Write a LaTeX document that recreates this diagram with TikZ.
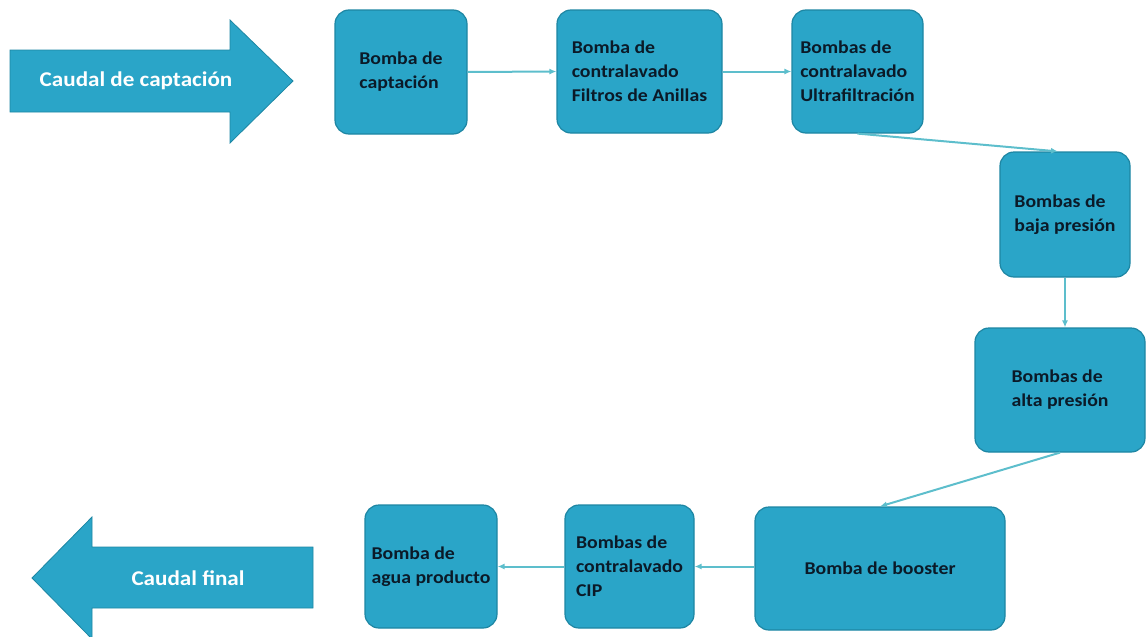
\documentclass[tikz,border=0pt]{standalone}
\usepackage{fontspec}
\setmainfont{Carlito}[FakeStretch=1.1]
\usetikzlibrary{arrows.meta}
\definecolor{boxfill}{HTML}{2AA5C8}
\definecolor{boxline}{HTML}{1D86A3}
\definecolor{conn}{HTML}{5DBECC}
\definecolor{txt}{HTML}{0B1A28}
\tikzset{
  pbox/.style={draw=boxline, line width=1.2pt, fill=boxfill, rounded corners=14pt,
    inner sep=0pt, align=left, text=txt, font=\fontsize{18}{24}\selectfont\bfseries},
  conline/.style={draw=conn, line width=2pt, -{Latex[length=7pt,width=6pt]}},
  bigarrow/.style={draw=boxline, line width=0.8pt, fill=boxfill},
  arrowtext/.style={text=white, font=\fontsize{21}{26}\selectfont\bfseries, inner sep=0pt}
}
\begin{document}
\begin{tikzpicture}[x=1pt,y=-1pt]
\useasboundingbox (0,0) rectangle (1146,637);
% big input arrow
\draw[bigarrow] (10,50) -- (230,50) -- (230,20) -- (293,81) -- (230,143) -- (230,112) -- (10,112) -- cycle;
\node[arrowtext] (cin) at (136,81) {Caudal de captación};
% big output arrow
\begin{scope}
\clip (0,0) rectangle (1146,637);
\draw[bigarrow] (313,547) -- (92,547) -- (92,517) -- (32,578) -- (92,639) -- (92,608) -- (313,608) -- cycle;
\end{scope}
\node[arrowtext] (cout) at (188,578) {Caudal final};
% boxes
\node[pbox, minimum width=132pt, minimum height=124pt] (b1) at (401,72) {Bomba de\\captación};
\node[pbox, minimum width=165pt, minimum height=123pt] (b2) at (639.5,71.5) {Bomba de\\contralavado\\Filtros de Anillas};
\node[pbox, minimum width=131pt, minimum height=123pt] (b3) at (857.5,71.5) {Bombas de\\contralavado\\Ultrafiltración};
\node[pbox, minimum width=130pt, minimum height=125pt] (b4) at (1065,214.5) {Bombas de\\baja presión};
\node[pbox, minimum width=170pt, minimum height=124pt] (b5) at (1060,390) {Bombas de\\alta presión};
\node[pbox, minimum width=250pt, minimum height=123pt] (b6) at (880,568.5) {Bomba de booster};
\node[pbox, minimum width=129pt, minimum height=123pt] (b7) at (629.5,566.5) {Bombas de\\contralavado\\CIP};
\node[pbox, minimum width=132pt, minimum height=123pt] (b8) at (431,566.5) {Bomba de\\agua producto};
% connectors
\draw[conline] (b1.east) -- (b2.west);
\draw[conline] (b2.east) -- (b3.west);
\draw[conline] (b3.south) -- ([xshift=-7pt]b4.north);
\draw[conline] (b4.south) -- (b4.south |- b5.north);
\draw[conline] (b5.south) -- (b6.north);
\draw[conline] (b6.west |- b7.east) -- (b7.east);
\draw[conline] (b7.west) -- (b8.east);
\end{tikzpicture}
\end{document}
